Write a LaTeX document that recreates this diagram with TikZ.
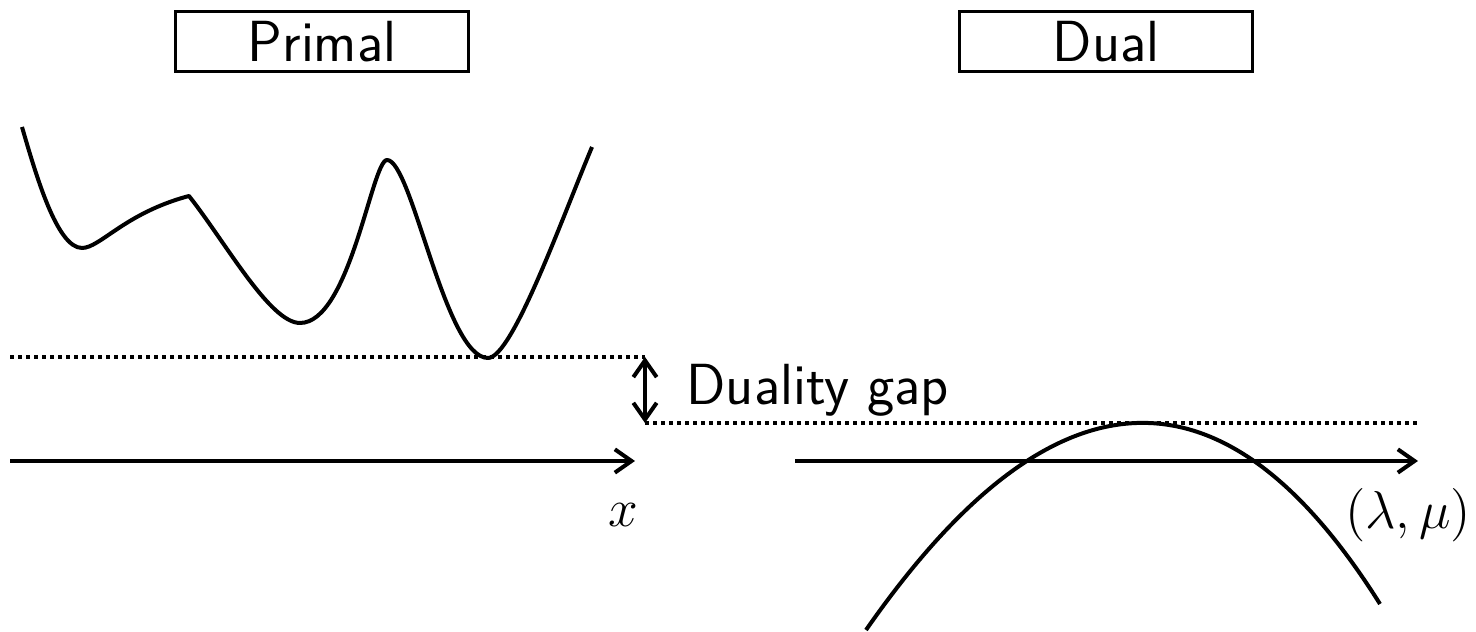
\documentclass[tikz,border=0pt]{standalone}
\usepackage{fix-cm}
\usepackage{tikz}
\usetikzlibrary{positioning,arrows.meta}

\begin{document}
\begin{tikzpicture}[
        x=0.3pt, y=0.3pt,
        titlebox/.style={
            draw,
            line width=0.9pt,
            minimum width=88pt,
            minimum height=18pt,
            inner sep=0pt,
            font=\fontsize{17.4}{20}\selectfont\sffamily
        },
        gaplabel/.style={
            anchor=base west,
            inner sep=0pt,
            font=\fontsize{17.4}{20}\selectfont\sffamily
        },
        axislabel/.style={
            anchor=base,
            inner sep=0pt,
            font=\fontsize{16}{19}\selectfont
        },
        curve/.style={line width=1.2pt, line join=round},
        axis/.style={-{Straight Barb[length=5pt,width=7pt]}, line width=1.2pt},
        gaparrow/.style={{Straight Barb[length=5pt,width=7pt]}-{Straight Barb[length=5pt,width=7pt]}, line width=1.2pt},
        gapline/.style={line width=1.2pt, dash pattern=on 1.2pt off 1.2pt}
    ]
        \useasboundingbox (0,0) rectangle (1476,632);

        % titles
        \node[titlebox] (primal) at (322,590) {Primal};
        \node[titlebox] (dual) at (1106,590) {Dual};

        % duality gap
        \coordinate (gaptop) at (645,275);
        \coordinate (gapbot) at (645,209);
        \draw[gapline] (10,275) -- (gaptop);
        \draw[gapline] (gapbot) -- (1420,209);
        \draw[gaparrow] (gaptop) -- (gapbot);
        \node[gaplabel] (gap) at (686,227) {Duality gap};

        % axes
        \draw[axis] (10,171) -- (635,171);
        \draw[axis] (795,171) -- (1418,171);
        \node[axislabel] (xlab) at (623,105) {$x$};
        \node[axislabel] (lmlab) at (1408,103) {$(\lambda,\mu)$};

        % primal function
        \draw[curve] (22,505) .. controls (36,457) and (57,384) .. (82,384)
            .. controls (100,384) and (125,419) .. (189,436)
            .. controls (226,389) and (270,309) .. (300,309)
            .. controls (350,309) and (372,472) .. (387,472)
            .. controls (412,472) and (445,274) .. (488,274)
            .. controls (512,274) and (561,411) .. (592,485);

        % dual function
        \draw[curve] (866,2) .. controls (1052,269) and (1223,278) .. (1380,28);
    \end{tikzpicture}
\end{document}
